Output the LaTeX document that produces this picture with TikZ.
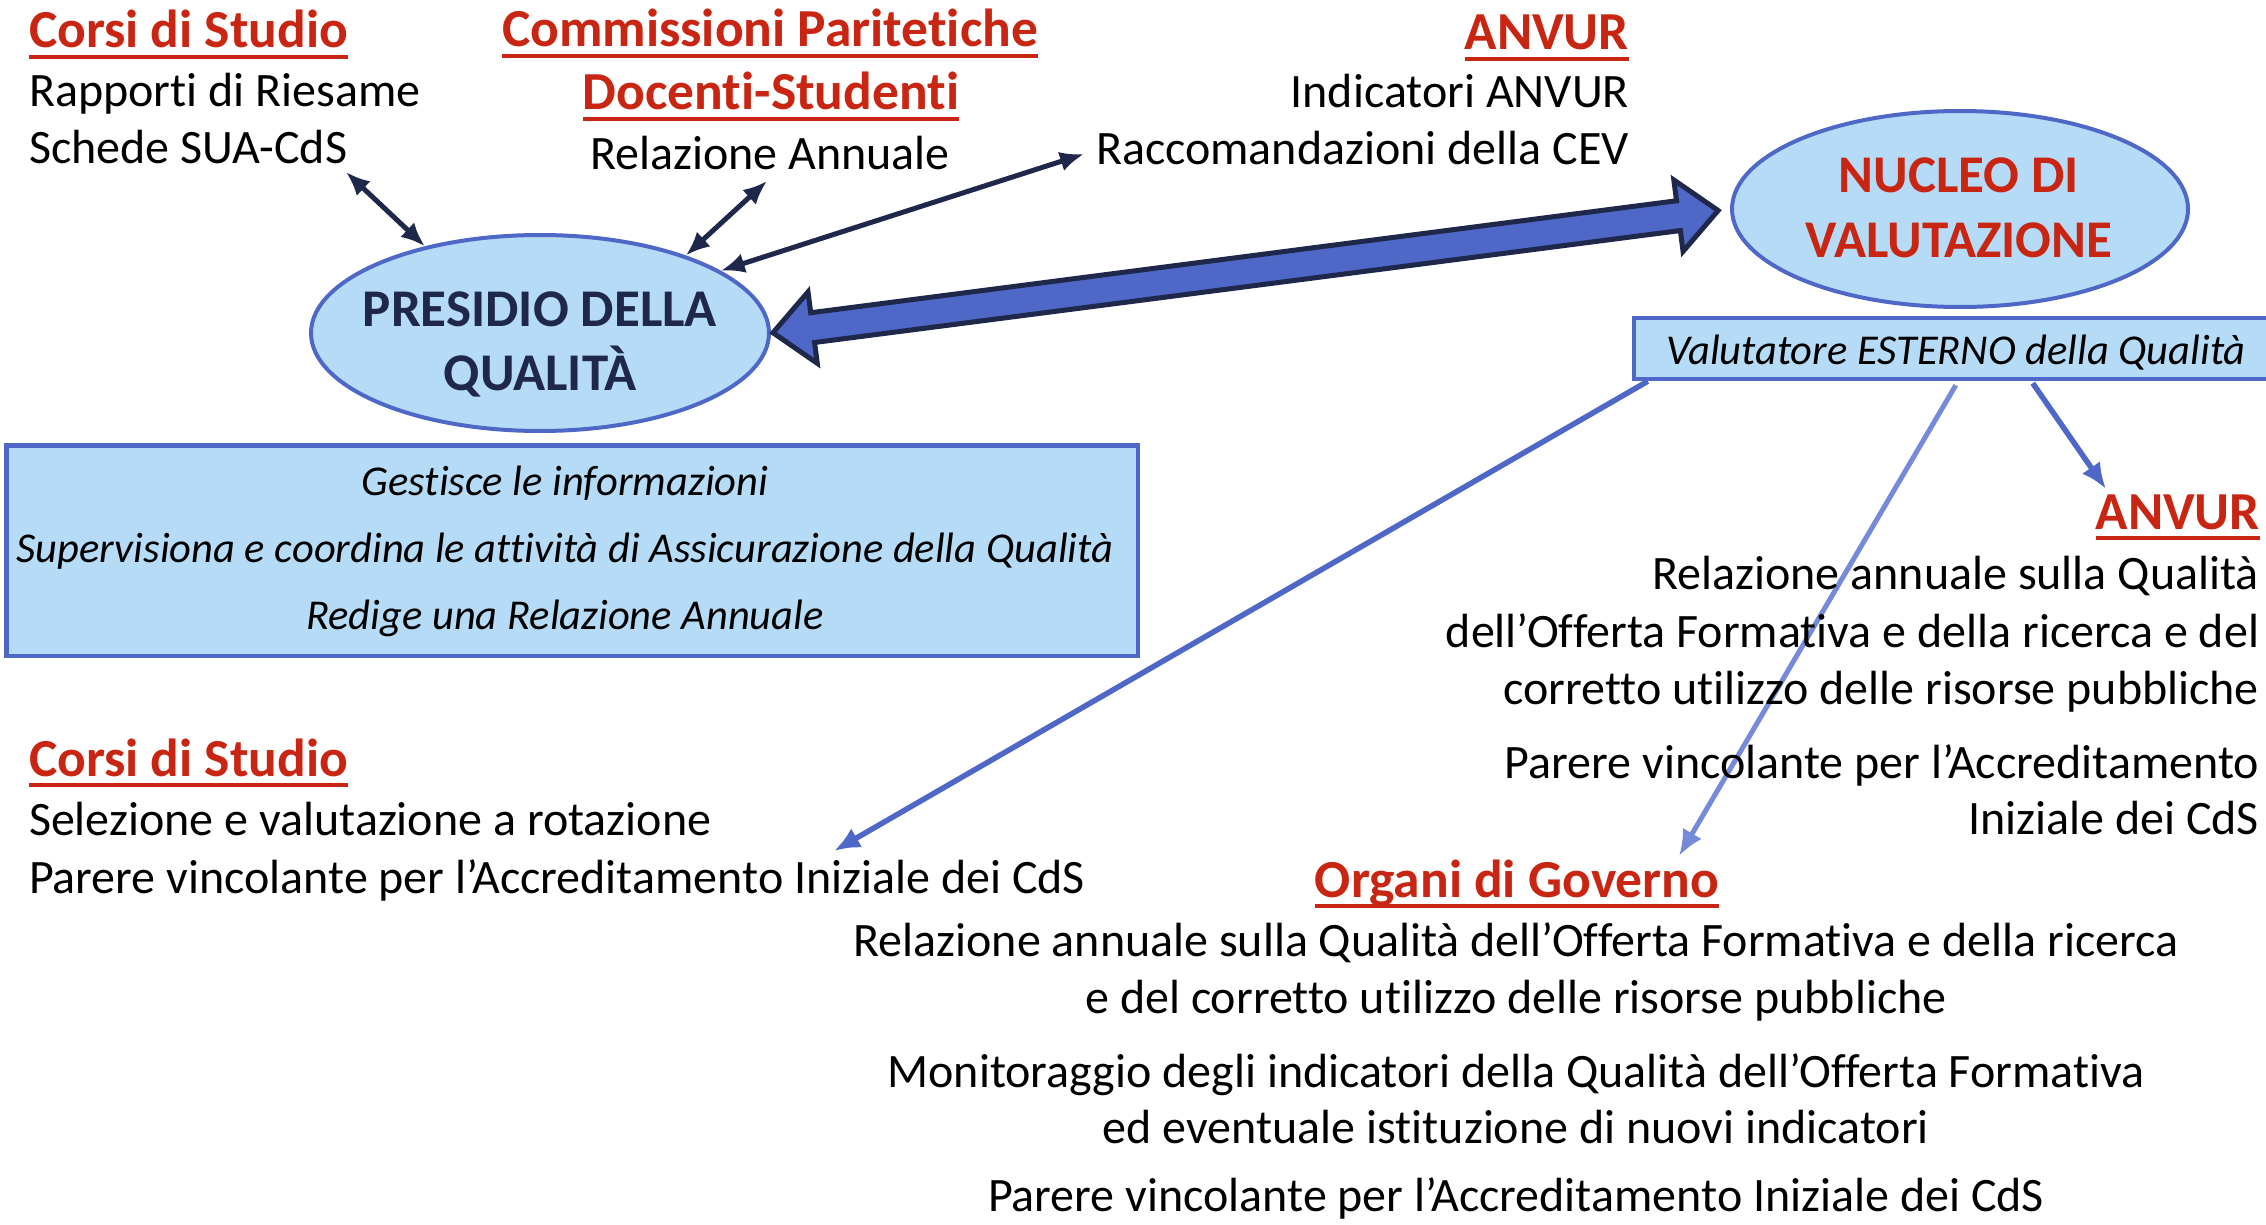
\documentclass[tikz,border=0pt]{standalone}
\usepackage{fontspec}
\setmainfont{Carlito}[Ligatures=NoCommon]
\usetikzlibrary{calc,shapes.geometric,arrows.meta}
\definecolor{navy}{RGB}{31,40,74}
\definecolor{bord}{RGB}{79,104,200}
\definecolor{fillb}{RGB}{181,219,246}
\definecolor{redh}{RGB}{200,38,18}
\definecolor{lightarr}{RGB}{118,138,218}
\newsavebox\hdbox
\newcommand\ulx[1]{\sbox\hdbox{#1}\rlap{\rule[-11pt]{\wd\hdbox}{4pt}}\usebox\hdbox}
\tikzset{
 txt/.style={inner sep=0pt, outer sep=0pt, font=\fontsize{48}{57}\selectfont},
 hd/.style={inner sep=0pt, outer sep=0pt, text=redh, font=\fontsize{53.5}{60}\selectfont\bfseries},
 itx/.style={inner sep=0pt, outer sep=0pt, font=\fontsize{42.5}{50}\selectfont\itshape},
 oval/.style={ellipse, draw=bord, fill=fillb, line width=4pt, minimum width=458pt, minimum height=196pt, inner sep=0pt},
 rbox/.style={draw=bord, fill=fillb, line width=4.5pt, inner sep=0pt},
 ovtxt/.style={inner sep=0pt, outer sep=0pt, font=\fontsize{53}{60}\selectfont\bfseries},
 darr/.style={draw=navy, line width=5pt, {Latex[length=24pt,width=20pt]}-{Latex[length=24pt,width=20pt]}},
 barr/.style={draw=bord, line width=5.5pt, -{Latex[length=26pt,width=22pt]}},
 blockarr/.style={draw=navy, fill=bord, line width=5pt, line join=miter},
}
\begin{document}
\begin{tikzpicture}[x=1pt,y=-1pt]
\useasboundingbox (0,0) rectangle (2266,1225);
\fill[white] (0,0) rectangle (2266,1225);

% top-left group
\node[hd, anchor=base west] (cs1) at (29,48) {\ulx{Corsi di Studio}};
\node[txt, anchor=base west] (rr) at (29,107) {Rapporti di Riesame};
\node[txt, anchor=base west] (sua) at (29,164) {Schede SUA-CdS};
% commissioni
\node[hd, anchor=base] (cp1) at (770,47) {\ulx{Commissioni Paritetiche}};
\node[hd, anchor=base] (cp2) at (771,110) {\ulx{Docenti-Studenti}};
\node[txt, anchor=base] (ra) at (770,170) {Relazione Annuale};
% ANVUR top
\node[hd, anchor=base east] (an1) at (1629,50) {\ulx{ANVUR}};
\node[txt, anchor=base east] (ia) at (1629,108) {Indicatori ANVUR};
\node[txt, anchor=base east] (cev) at (1629,165) {Raccomandazioni della CEV};

% ellipses
\node[oval] (pq) at (540,333) {};
\node[ovtxt, text=navy, anchor=base] (pq1) at (540,326) {PRESIDIO DELLA};
\node[ovtxt, text=navy, anchor=base] (pq2) at (540,390) {QUALITÀ};
\node[oval, minimum width=456pt] (nv) at (1960,209) {};
\node[ovtxt, text=redh, anchor=base] (nv1) at (1959,193) {NUCLEO DI};
\node[ovtxt, text=redh, anchor=base] (nv2) at (1959,257) {VALUTAZIONE};

% boxes
\node[rbox, minimum width=1131.5pt, minimum height=210.5pt] (gb) at (572,550.5) {};
\node[itx, anchor=base] (g1) at (565,495) {Gestisce le informazioni};
\node[itx, anchor=base] (g2) at (565,562) {Supervisiona e coordina le attività di Assicurazione della Qualità};
\node[itx, anchor=base] (g3) at (565,629) {Redige una Relazione Annuale};

\node[rbox, minimum width=656pt, minimum height=61pt] (vb) at (1962,348.5) {};
\node[itx, anchor=base] (vt) at (1956,364) {Valutatore ESTERNO della Qualità};

% small double arrows
\coordinate (e1) at (346,172);
\draw[darr] (e1) -- (pq.143);
\coordinate (e2) at (767,181);
\draw[darr] (e2) -- (pq.28);
\coordinate (e3) at (1084,154);
\draw[darr] (e3) -- (pq.19);

% big block double arrow
\coordinate (L) at ($(pq.east)!2pt!(nv.west)$);
\coordinate (R) at ($(nv.west)!12pt!(pq.east)$);
\coordinate (LH) at ($(L)!40pt!(R)$);
\coordinate (RH) at ($(R)!40pt!(L)$);
\draw[blockarr] (L) -- ($(LH)!36pt!90:(R)$) -- ($(LH)!15pt!90:(R)$)
  -- ($(RH)!15pt!-90:(L)$) -- ($(RH)!36pt!-90:(L)$) -- (R)
  -- ($(RH)!36pt!90:(L)$) -- ($(RH)!15pt!90:(L)$)
  -- ($(LH)!15pt!-90:(R)$) -- ($(LH)!36pt!-90:(R)$) -- cycle;

% lower arrows
\coordinate (sA) at ($(vb.south west)+(16,0)$);
\coordinate (tA) at (834,851);
\draw[barr] (sA) -- (tA);
\coordinate (sB) at ($(vb.south west)+(324,4)$);
\coordinate (tB) at (1679,856);
\draw[barr, draw=lightarr, line width=5pt] (sB) -- (tB);
\coordinate (sC) at ($(vb.south west)+(401,2)$);
\coordinate (tC) at (2106,489);
\draw[barr] (sC) -- (tC);

% ANVUR lower
\node[hd, anchor=base east] (an2) at (2260,529) {\ulx{ANVUR}};
\node[txt, anchor=base east] (r1) at (2259,589) {Relazione annuale sulla Qualità};
\node[txt, anchor=base east] (r2) at (2259,647) {dell’Offerta Formativa e della ricerca e del};
\node[txt, anchor=base east] (r3) at (2259,704) {corretto utilizzo delle risorse pubbliche};
\node[txt, anchor=base east] (r4) at (2259,778) {Parere vincolante per l’Accreditamento};
\node[txt, anchor=base east] (r5) at (2259,834) {Iniziale dei CdS};

% Corsi di Studio lower
\node[hd, anchor=base west] (cs2) at (29,776) {\ulx{Corsi di Studio}};
\node[txt, anchor=base west] (sv) at (29,835) {Selezione e valutazione a rotazione};
\node[txt, anchor=base west] (pv) at (29,893) {Parere vincolante per l’Accreditamento Iniziale dei CdS};

% Organi di Governo
\node[hd, anchor=base] (og) at (1517,897) {\ulx{Organi di Governo}};
\node[txt, anchor=base] (o1) at (1516,956) {Relazione annuale sulla Qualità dell’Offerta Formativa e della ricerca};
\node[txt, anchor=base] (o2) at (1516,1013) {e del corretto utilizzo delle risorse pubbliche};
\node[txt, anchor=base] (o3) at (1516,1087) {Monitoraggio degli indicatori della Qualità dell’Offerta Formativa};
\node[txt, anchor=base] (o4) at (1516,1143) {ed eventuale istituzione di nuovi indicatori};
\node[txt, anchor=base] (o5) at (1516,1211) {Parere vincolante per l’Accreditamento Iniziale dei CdS};
\end{tikzpicture}
\end{document}
